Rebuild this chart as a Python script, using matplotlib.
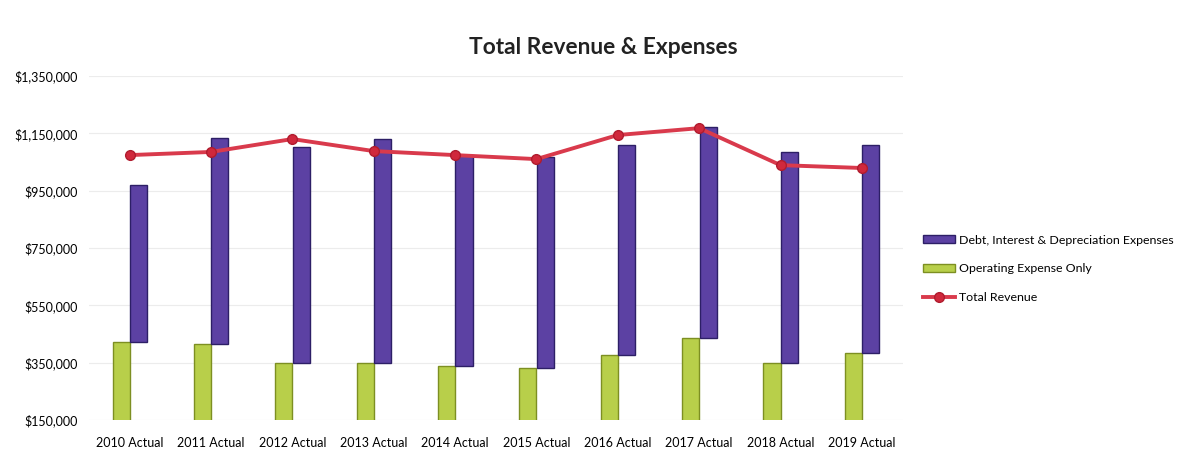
import numpy as np
import matplotlib
matplotlib.use("Agg")
import matplotlib.pyplot as plt

plt.rcParams['font.family'] = ['Lato', 'DejaVu Sans']

# values (dollars)
years = ["2010 Actual", "2011 Actual", "2012 Actual", "2013 Actual", "2014 Actual",
         "2015 Actual", "2016 Actual", "2017 Actual", "2018 Actual", "2019 Actual"]
operating = [422000, 415000, 349000, 349000, 338000, 331000, 377000, 436000, 349000, 384000]
debt_interest_dep = [548000, 719000, 753000, 781000, 736000, 736000, 732000, 736000, 736000, 725000]
total_revenue = [1074000, 1085000, 1130000, 1088000, 1074000, 1060000, 1144000, 1168000, 1039000, 1029000]
yticks = [150000, 350000, 550000, 750000, 950000, 1150000, 1350000]

fig = plt.figure(figsize=(11.86, 4.55), dpi=100)
ax = fig.add_axes([0.075, 0.077, 0.686, 0.756])

x = np.arange(len(years))
w = 0.21

# faint gridlines
for t in yticks:
    ax.axhline(t, color='#ececec', lw=0.8, zorder=0)

ops = ax.bar(x - 0.105, operating, width=w, color='#b8cf4a', edgecolor='#7d8f22',
             linewidth=1.0, zorder=2)
debt = ax.bar(x + 0.11, debt_interest_dep, width=w, bottom=operating, color='#5c41a3',
              edgecolor='#2d1f66', linewidth=1.0, zorder=2)
rev, = ax.plot(x, total_revenue, color='#d93a4c', lw=2.8, marker='o', markersize=7,
               markerfacecolor='#d0283c', markeredgecolor='#b01c2e', zorder=3)

ax.set_xlim(-0.5, len(years) - 0.5)
ax.set_ylim(150000, 1350000)
ax.set_yticks(yticks)
ax.set_yticklabels([f"${v:,.0f}" for v in yticks], fontsize=9)
ax.set_xticks(x)
ax.set_xticklabels(years, fontsize=9)
ax.tick_params(axis='x', length=0, pad=12)
ax.tick_params(axis='y', length=0, pad=8)
for s in ax.spines.values():
    s.set_visible(False)

fig.text(603 / 1186, 1 - 47 / 455, "Total Revenue & Expenses", ha='center', va='center',
         fontsize=16.4, fontweight='bold', color='#222222')

fig.legend([debt, ops, rev],
           ['Debt, Interest & Depreciation Expenses', 'Operating Expense Only', 'Total Revenue'],
           loc='center left', bbox_to_anchor=(912 / 1186, 1 - 269 / 455), frameon=False,
           fontsize=8.9, labelspacing=1.45, handlelength=2.6, handletextpad=0.3,
           handleheight=0.6)

fig.savefig("out.png", dpi=100)
